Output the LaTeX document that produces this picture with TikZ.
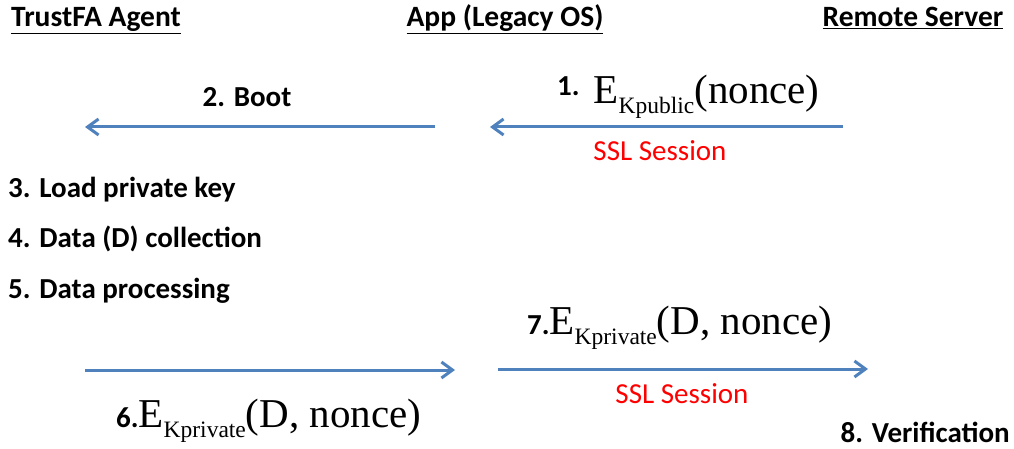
\documentclass[tikz,border=0pt]{standalone}
\usepackage{fontspec}
\setmainfont{Carlito}
\newfontfamily\tnr{Liberation Serif}
\usetikzlibrary{arrows.meta}
\definecolor{flowblue}{HTML}{4F81BD}
\definecolor{sslred}{HTML}{FF0000}
\tikzset{
  head/.style={font=\fontsize{29.5}{34}\selectfont\bfseries, inner sep=0pt, anchor=base},
  stepnote/.style={font=\fontsize{29}{34}\selectfont\bfseries, inner sep=0pt},
  ssl/.style={font=\fontsize{29}{34}\selectfont, text=sslred, inner sep=0pt, anchor=base},
  msg/.style={inner sep=0pt},
  flow/.style={draw=flowblue, line width=3pt, -{Straight Barb[length=11pt,width=16pt,line width=3pt]}},
}
\newcommand{\numlab}[1]{{\fontsize{29}{32}\selectfont\bfseries #1}}
\newcommand{\enc}[2]{{\tnr\fontsize{41}{46}\selectfont E\raisebox{-10pt}{\fontsize{23.5}{27}\selectfont #1}#2}}
\begin{document}
\begin{tikzpicture}[x=1pt,y=-1pt]
\useasboundingbox (0,0) rectangle (1014,449);
% column headings
\node[head] (agent) at (96,27) {\underline{TrustFA Agent}};
\node[head] (app) at (505,27) {\underline{App (Legacy OS)}};
\node[head] (server) at (913,27) {\underline{Remote Server}};
% step 1: server to app over SSL
\coordinate (s1) at (843,127);
\coordinate (a1) at (490,127);
\draw[flow] (s1) -- (a1);
\node[msg, anchor=base west] (m1) at (557,104) {\raisebox{8pt}{\numlab{1.}}\hspace{14pt}\enc{Kpublic}{(nonce)}};
\node[ssl] (ssl1) at (660,161) {SSL Session};
% step 2: app boots the agent
\coordinate (a2) at (435,127);
\coordinate (g2) at (85,127);
\draw[flow] (a2) -- (g2);
\node[stepnote, anchor=base] (boot) at (247,107) {2. Boot};
% agent-side steps
\node[stepnote, anchor=base west] (st3) at (8,197) {3. Load private key};
\node[stepnote, anchor=base west] (st4) at (8,247) {4. Data (D) collection};
\node[stepnote, anchor=base west] (st5) at (8,298) {5. Data processing};
% step 6: agent to app
\coordinate (g6) at (85,370);
\coordinate (a6) at (455,370);
\draw[flow] (g6) -- (a6);
\node[msg, anchor=base west] (m6) at (116,427) {\numlab{6.}\enc{Kprivate}{(D, nonce)}};
% step 7: app to server over SSL
\coordinate (a7) at (498,369);
\coordinate (s7) at (868,369);
\draw[flow] (a7) -- (s7);
\node[msg, anchor=base west] (m7) at (527,334) {\numlab{7.}\enc{Kprivate}{(D, nonce)}};
\node[ssl] (ssl7) at (682,403) {SSL Session};
% step 8
\node[stepnote, anchor=base east] (st8) at (1010,442) {8. Verification};
\end{tikzpicture}
\end{document}
